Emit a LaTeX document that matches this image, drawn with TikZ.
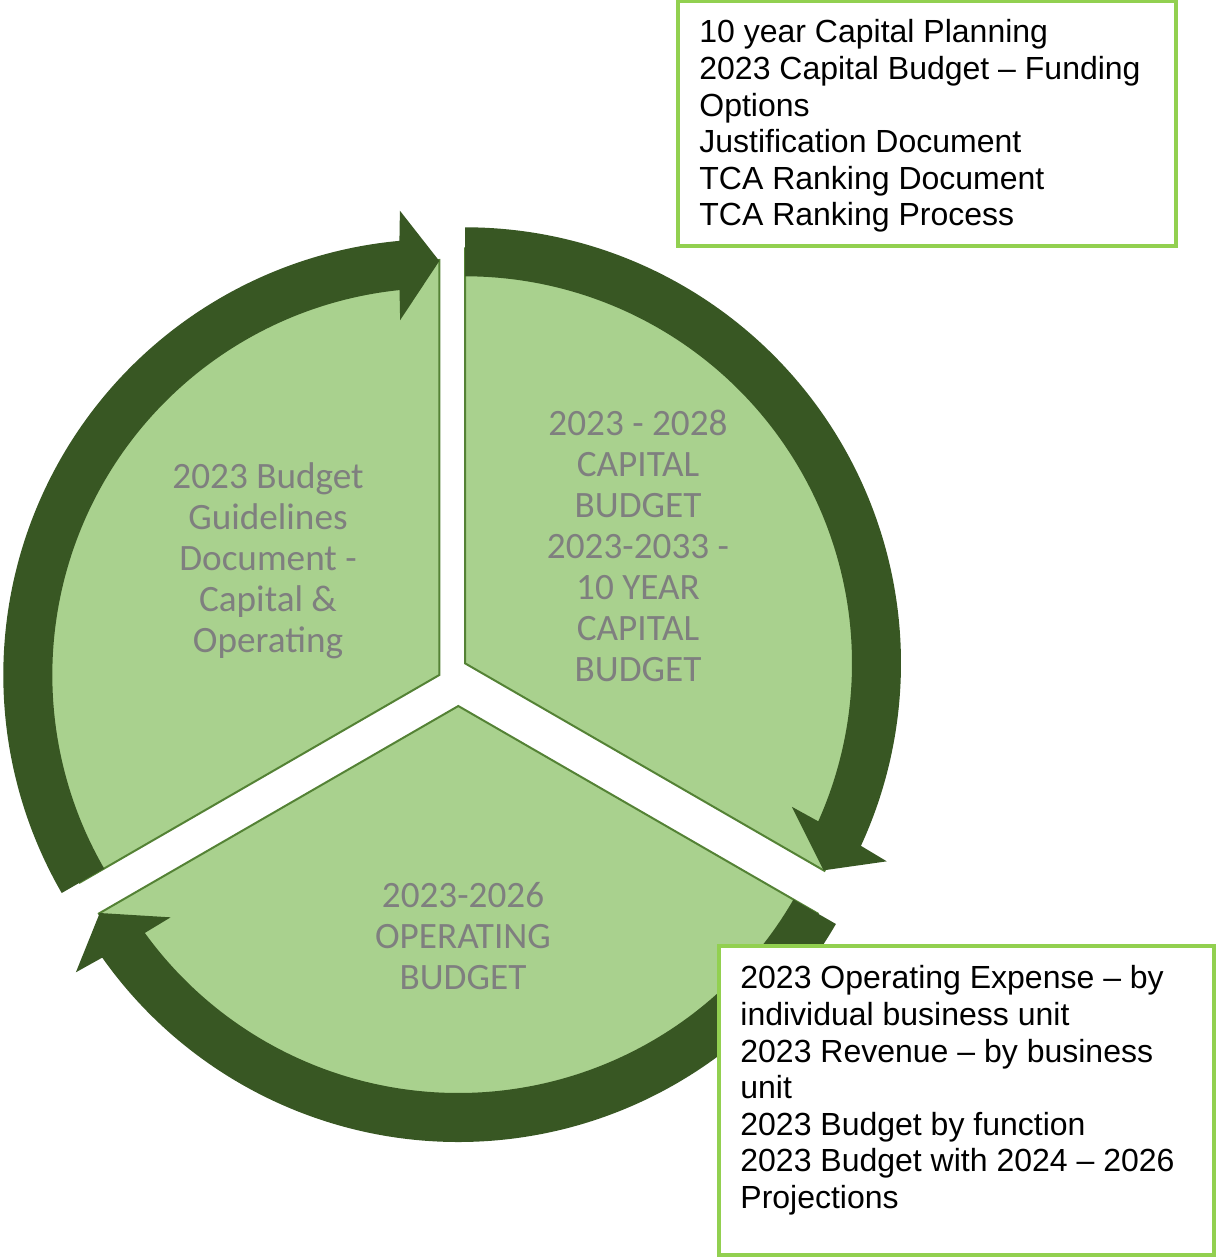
\documentclass[tikz,border=0pt]{standalone}
\usepackage{fontspec}
\setmainfont{Liberation Sans}
\newfontfamily\segfont{Carlito}
\usepackage{xcolor}

\definecolor{segfill}{RGB}{169,209,142}
\definecolor{segline}{RGB}{84,130,53}
\definecolor{arrowgreen}{RGB}{56,87,35}
\definecolor{boxgreen}{RGB}{146,208,80}
\definecolor{labelgray}{RGB}{127,127,127}

% multi-line nodes sit on the baseline of their last line
\tikzset{
  segment/.style={fill=segfill, draw=segline, line width=1pt, line join=miter},
  cyclearrow/.style={fill=arrowgreen},
  seglabel/.style={font=\segfont\fontsize{18.6}{20.5}\selectfont, text=labelgray, align=center, inner sep=0pt, anchor=base},
  notebox/.style={draw=boxgreen, line width=1.6pt, fill=white},
  notetext/.style={font=\fontsize{16}{18.3}\selectfont, align=left, inner sep=0pt, anchor=base west},
}

\begin{document}
\begin{tikzpicture}[x=0.5pt,y=0.5pt,yscale=-1,xscale=1]
\useasboundingbox (0,0) rectangle (1216,1257);

%Shape: Sector top left
\begin{scope}[shift={(439.3,675)}]
\draw[segment] (0,0) -- (150:415) arc[start angle=150, end angle=270, radius=415] -- cycle;
\end{scope}
%Shape: Sector top right
\begin{scope}[shift={(465,663.3)}]
\draw[segment] (0,0) -- (270:415) arc[start angle=270, end angle=390, radius=415] -- cycle;
\end{scope}
%Shape: Sector bottom
\begin{scope}[shift={(458.3,706)}]
\draw[segment] (0,0) -- (30:415) arc[start angle=30, end angle=150, radius=415] -- cycle;
\end{scope}

%Circular Arrow top left
\begin{scope}[shift={(439.3,675)}]
\fill[cyclearrow] (150:436) arc[start angle=150, end angle=264.75, radius=436] -- (265.15:466) -- (270:414) -- (263.7:357) -- (264.1:387) arc[start angle=264.1, end angle=150, radius=387] -- cycle;
\end{scope}
%Circular Arrow top right
\begin{scope}[shift={(465,663.3)}]
\fill[cyclearrow] (270:436) arc[start angle=270, end angle=384.75, radius=436] -- (385.15:466) -- (390:414) -- (383.7:357) -- (384.1:387) arc[start angle=384.1, end angle=270, radius=387] -- cycle;
\end{scope}
%Circular Arrow bottom
\begin{scope}[shift={(458.3,706)}]
\fill[cyclearrow] (30:436) arc[start angle=30, end angle=144.75, radius=436] -- (145.15:466) -- (150:414) -- (143.7:357) -- (144.1:387) arc[start angle=144.1, end angle=30, radius=387] -- cycle;
\end{scope}

% Text Node
\node[seglabel] (guidelines) at (268,652) {2023 Budget\\Guidelines\\Document -\\Capital \&\\Operating};
% Text Node
\node[seglabel] (capital) at (638,681) {2023 - 2028\\CAPITAL\\BUDGET\\2023-2033 -\\10 YEAR\\CAPITAL\\BUDGET};
% Text Node
\node[seglabel] (operating) at (463,989) {2023-2026\\OPERATING\\BUDGET};

%Shape: Rectangle capital notes
\draw[notebox] (678,1.7) rectangle (1176,246);
% Text Node
\node[notetext] (capnotes) at (699,226) {10 year Capital Planning\\2023 Capital Budget -- Funding\\Options\\Justification Document\\TCA Ranking Document\\TCA Ranking Process};

%Shape: Rectangle operating notes
\draw[notebox] (719,946) rectangle (1214,1255);
% Text Node
\node[notetext] (opnotes) at (740,1208.5) {2023 Operating Expense -- by\\individual business unit\\2023 Revenue -- by business\\unit\\2023 Budget by function\\2023 Budget with 2024 -- 2026\\Projections};

\end{tikzpicture}
\end{document}
